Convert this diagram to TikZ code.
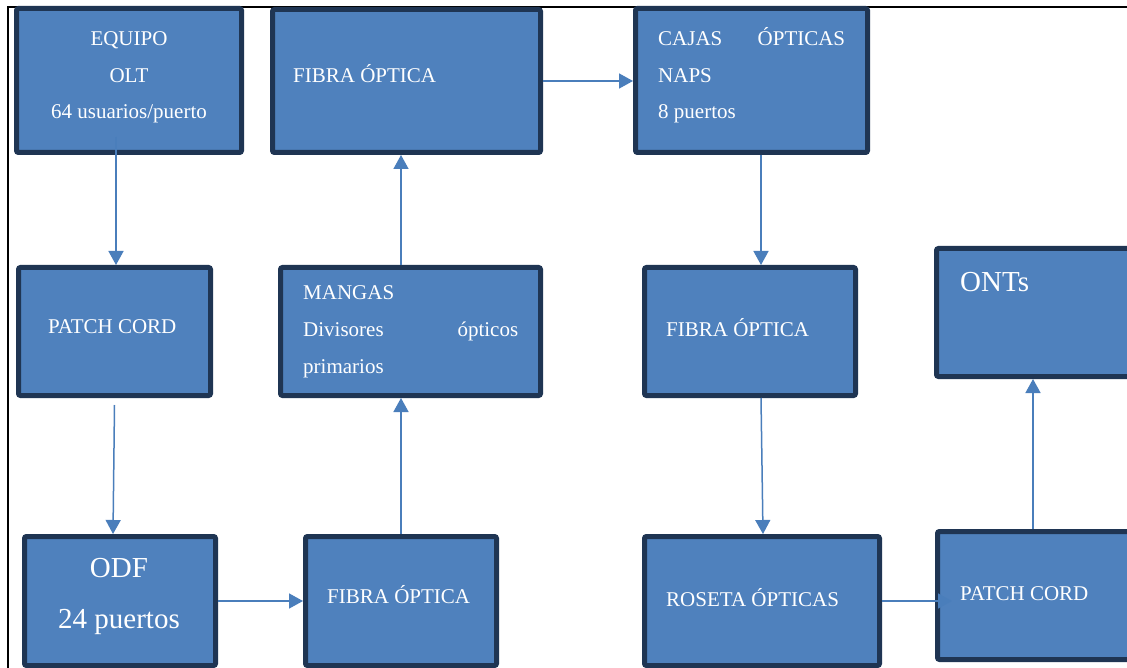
\documentclass[tikz,border=0pt]{standalone}
\usepackage{fontspec}
\setmainfont{Liberation Serif}
\usetikzlibrary{arrows.meta,calc}
\definecolor{boxfill}{HTML}{4F81BD}
\definecolor{boxline}{HTML}{1F3553}
\definecolor{arrcol}{HTML}{4A7EBB}
\tikzset{
  blk/.style={rectangle, draw=boxline, fill=boxfill, line width=5pt, rounded corners=2pt, inner sep=0pt},
  txt/.style={text=white, inner sep=0pt, font=\fontsize{21}{25}\selectfont},
  bigtxt/.style={text=white, inner sep=0pt, font=\fontsize{29}{34}\selectfont},
  arr/.style={draw=arrcol, line width=1.5pt, -{Triangle[length=14pt,width=15pt]}}
}
\begin{document}
\begin{tikzpicture}[x=1pt,y=-1pt]
\useasboundingbox (0,0) rectangle (1127,668);
\clip (0,0) rectangle (1127,668);
\fill[white] (0,0) rectangle (1127,668);
% frame
\draw[black, line width=1.5pt] (8,670) -- (8,7) -- (1130,7);
% boxes
\node[blk, minimum width=225pt, minimum height=144pt] (olt) at (129,80.5) {};
\node[blk, minimum width=268pt, minimum height=143pt] (ft) at (406.5,81) {};
\node[blk, minimum width=232pt, minimum height=144pt] (cajas) at (751.5,80.5) {};
\node[blk, minimum width=192pt, minimum height=128pt] (pcl) at (114.5,331.5) {};
\node[blk, minimum width=260pt, minimum height=128pt] (mangas) at (410.5,331.5) {};
\node[blk, minimum width=211pt, minimum height=128pt] (fm) at (750,331.5) {};
\node[blk, minimum width=201pt, minimum height=128pt] (onts) at (1037,312.5) {};
\node[blk, minimum width=191pt, minimum height=129pt] (odf) at (120,601) {};
\node[blk, minimum width=191pt, minimum height=129pt] (fb) at (401,601) {};
\node[blk, minimum width=235pt, minimum height=129pt] (roseta) at (762,601) {};
\node[blk, minimum width=200pt, minimum height=128pt] (pcr) at (1037.5,595.5) {};
% texts
\node[txt, anchor=base] (t1a) at (129,46) {EQUIPO};
\node[txt, anchor=base] (t1b) at (129,83) {OLT};
\node[txt, anchor=base] (t1c) at (129,119) {64 usuarios/puerto};
\node[txt, anchor=base west] (t2) at (293,83) {FIBRA ÓPTICA};
\node[txt, anchor=base west] (t3a) at (658,46) {\hbox to 187pt{CAJAS\hfill ÓPTICAS}};
\node[txt, anchor=base west] (t3b) at (658,83) {NAPS};
\node[txt, anchor=base west] (t3c) at (658,119) {8 puertos};
\node[txt, anchor=base west] (t4) at (48,334) {PATCH CORD};
\node[txt, anchor=base west] (t5a) at (303,300) {MANGAS};
\node[txt, anchor=base west] (t5b) at (303,337) {\hbox to 215pt{Divisores\hfill ópticos}};
\node[txt, anchor=base west] (t5c) at (303,373) {primarios};
\node[txt, anchor=base west] (t6) at (666,337) {FIBRA ÓPTICA};
\node[bigtxt, anchor=base west] (t7) at (960,291) {ONTs};
\node[bigtxt, anchor=base] (t8a) at (119,577) {ODF};
\node[bigtxt, anchor=base] (t8b) at (119,628) {24 puertos};
\node[txt, anchor=base west] (t9) at (327,603) {FIBRA ÓPTICA};
\node[txt, anchor=base west] (t10) at (666,606) {ROSETA ÓPTICAS};
\node[txt, anchor=base west] (t11) at (960,600) {PATCH CORD};
% connectors
\draw[arr] ($(olt.south)+(-13pt,18pt)$) -- ($(olt.south |- pcl.north)+(-13pt,0pt)$);
\draw[arr] ($(pcl.south)+(0pt,-7pt)$) -- ($(odf.north)+(-7pt,0pt)$);
\draw[arr] (odf.east) -- (fb.west);
\draw[arr] (fb.north) -- (fb.north |- mangas.south);
\draw[arr] (fb.north |- mangas.north) -- (fb.north |- ft.south);
\draw[arr] (ft.east) -- (ft.east -| cajas.west);
\draw[arr] ($(cajas.south)+(9.5pt,0pt)$) -- ($(cajas.south |- fm.north)+(9.5pt,0pt)$);
\draw[arr] ($(fm.south)+(11pt,0pt)$) -- ($(roseta.north)+(1pt,0pt)$);
\draw[arr] (roseta.east) -- ($(roseta.east -| pcr.west)+(17pt,0pt)$);
\draw[arr] ($(pcr.north)+(-4.5pt,0pt)$) -- ($(pcr.north |- onts.south)+(-4.5pt,0pt)$);
\end{tikzpicture}
\end{document}
